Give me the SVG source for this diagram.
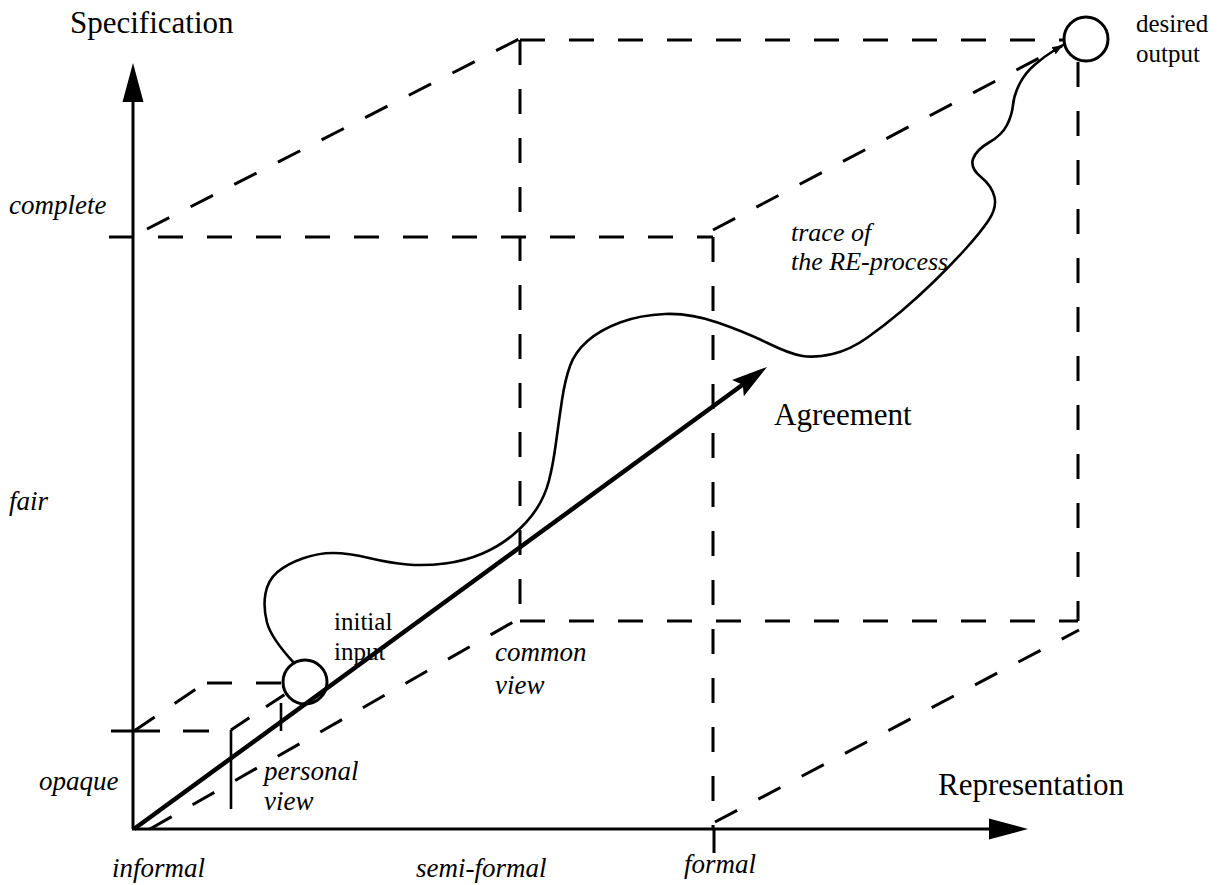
<svg xmlns="http://www.w3.org/2000/svg" width="1219" height="885" viewBox="0 0 1219 885">
<defs>
<style>
.dash{fill:none;stroke:#000;stroke-width:3;stroke-dasharray:25 24}
.solid{fill:none;stroke:#000;stroke-width:3}
.node{fill:#fff;stroke:#000;stroke-width:3}
.trace{fill:none;stroke:#000;stroke-width:2.6;stroke-linecap:round;stroke-linejoin:round}
.t{font-family:"Liberation Serif","Times New Roman",serif;fill:#000}
.big{font-size:31px}
.it{font-style:italic;font-size:27px}
.it2{font-style:italic;font-size:26px}
.sm{font-size:25px}
</style>
<marker id="axhead" viewBox="0 -12 40 24" refX="0" refY="0" markerWidth="40" markerHeight="24" markerUnits="userSpaceOnUse" orient="auto"><path d="M0,-10.5 L39,0 L0,10.5 Z" fill="#000"/></marker>
<marker id="aghead" viewBox="-1 -11 38 22" refX="10" refY="0" markerWidth="38" markerHeight="22" markerUnits="userSpaceOnUse" orient="auto"><path d="M0,-10 L36,0 L0,10 L6,0 Z" fill="#000"/></marker>
<marker id="trhead" viewBox="0 -5 12 10" refX="11" refY="0" markerWidth="12" markerHeight="10" markerUnits="userSpaceOnUse" orient="auto"><path d="M0,-4 L11,0 L0,4 Z" fill="#000"/></marker>
</defs>
<rect width="1219" height="885" fill="#fff"/>

<g id="cube">
<line class="dash" x1="109" y1="237" x2="713" y2="237"/>
<line class="dash" x1="713" y1="237" x2="713" y2="829"/>
<line class="dash" x1="147" y1="229" x2="519" y2="39"/>
<line class="dash" x1="520" y1="40" x2="520" y2="621"/>
<line class="dash" x1="520" y1="40" x2="1064" y2="40"/>
<line class="dash" x1="713" y1="230" x2="1062" y2="46"/>
<line class="dash" x1="1078" y1="62" x2="1078" y2="621"/>
<line class="dash" x1="520" y1="621" x2="1078" y2="621"/>
<line class="dash" x1="715" y1="822" x2="1079" y2="630"/>
<line class="dash" x1="150" y1="829" x2="515" y2="621"/>
</g>

<g id="personal-box">
<line class="solid" x1="111" y1="731" x2="134" y2="731"/>
<line class="dash" x1="134" y1="731" x2="231" y2="731" style="stroke-dasharray:26 23"/>
<line class="dash" x1="134" y1="731" x2="205" y2="683"/>
<line class="dash" x1="207" y1="683" x2="283" y2="683"/>
<line class="dash" x1="231" y1="730" x2="290" y2="691" style="stroke-dasharray:22 20"/>
<line class="solid" x1="231" y1="730" x2="231" y2="809" style="stroke-width:2.6"/>
<line class="solid" x1="281" y1="703" x2="281" y2="731" style="stroke-width:2.6"/>
</g>

<g id="axes">
<line class="solid" x1="133" y1="829" x2="133" y2="102" marker-end="url(#axhead)"/>
<line class="solid" x1="132" y1="829" x2="989" y2="829" marker-end="url(#axhead)"/>
<line class="solid" x1="714" y1="829" x2="714" y2="853"/>
</g>

<g id="initial-input">
<circle class="node" cx="305" cy="682" r="22"/>
<text class="t sm" x="334" y="630">initial</text>
<text class="t sm" x="334" y="660">input</text>
</g>

<g id="desired-output">
<circle class="node" cx="1086" cy="39" r="22"/>
<text class="t sm" x="1136" y="32">desired</text>
<text class="t sm" x="1136" y="62">output</text>
</g>

<g id="connectors">
<line id="agreement" x1="134" y1="829" x2="746" y2="382.3" stroke="#000" stroke-width="4.5" marker-end="url(#aghead)"/>
<path id="trace" class="trace" marker-end="url(#trhead)" d="M294,663 Q271,638 267,622.5 Q263,607 265.5,593.5 Q268,580 277.5,572 Q287,564 302.5,558.5 Q318,553 333,553 Q348,553 369,558 Q390,563 407.5,564.5 Q425,566 445,563.5 Q465,561 482.5,553.5 Q500,546 514,534 Q528,522 536.5,509 Q545,496 549,480.5 Q553,465 556,442.5 Q559,420 562,400 Q565,380 570,366 Q575,352 587.5,341 Q600,330 620,322.5 Q640,315 665,314 Q690,313 717.5,322.5 Q745,332 767.5,343 Q790,354 802.5,356 Q815,358 832.5,354 Q850,350 867.5,337.5 Q885,325 901,311.5 Q917,298 933.5,282 Q950,266 965,249.5 Q980,233 988.5,220.5 Q997,208 994.5,197 Q992,186 981,177 Q970,168 973,159 Q976,150 989,142.5 Q1002,135 1007,125 Q1012,115 1013,105 Q1014,95 1019.5,84 Q1025,73 1035,64.5 Q1045,56 1054,50.5 L1063,45"/>
</g>

<g id="labels">
<text class="t big" x="70" y="33">Specification</text>
<text class="t big" x="938" y="795">Representation</text>
<text class="t big" x="774" y="425">Agreement</text>
<text class="t it" x="9" y="214">complete</text>
<text class="t it" x="9" y="510">fair</text>
<text class="t it" x="39" y="790">opaque</text>
<text class="t it" x="112" y="877">informal</text>
<text class="t it" x="416" y="877">semi-formal</text>
<text class="t it" x="684" y="873">formal</text>
<text class="t it2" x="791" y="241">trace of</text>
<text class="t it2" x="791" y="270">the RE-process</text>
<text class="t it" x="495" y="661">common</text>
<text class="t it" x="495" y="694">view</text>
<text class="t it" x="264" y="780">personal</text>
<text class="t it" x="264" y="810">view</text>
</g>
</svg>
